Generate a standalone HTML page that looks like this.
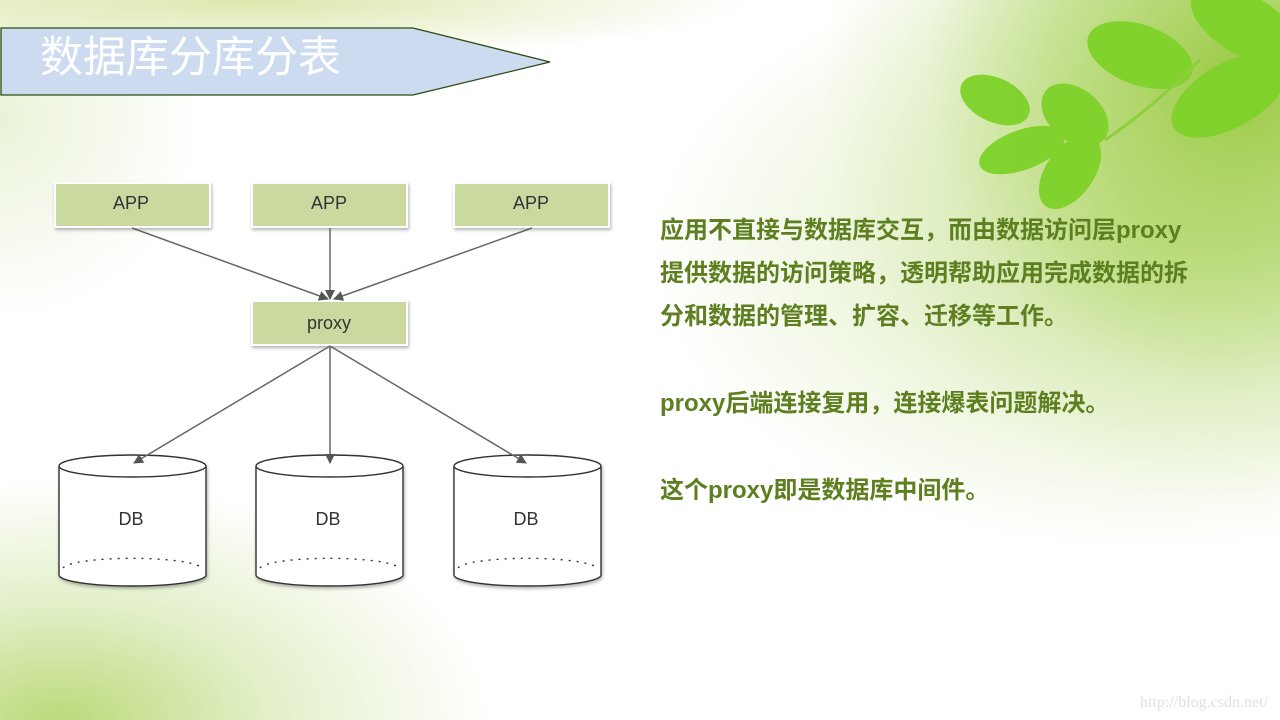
<!DOCTYPE html>
<html><head><meta charset="utf-8"><style>
html,body{margin:0;padding:0}
body{width:1280px;height:720px;position:relative;overflow:hidden;background:#fff;
font-family:"Liberation Sans","Noto Sans CJK SC",sans-serif;}
.bg{position:absolute;inset:0;
background:
radial-gradient(ellipse 420px 420px at 1240px 80px, rgba(150,200,60,0.95), rgba(170,210,90,0.6) 45%, rgba(200,225,150,0.25) 75%, rgba(255,255,255,0) 100%),
radial-gradient(ellipse 500px 300px at 1150px 250px, rgba(170,210,90,0.5), rgba(255,255,255,0) 100%),
radial-gradient(ellipse 430px 240px at 60px 720px, rgba(185,215,115,0.95), rgba(205,228,160,0.55) 50%, rgba(255,255,255,0) 100%),
radial-gradient(ellipse 500px 60px at 250px 0px, rgba(210,225,150,0.8), rgba(255,255,255,0) 100%),
radial-gradient(ellipse 200px 200px at 0px 120px, rgba(220,235,190,0.6), rgba(255,255,255,0) 100%),
#fff;}
.txt{position:absolute;left:660px;color:#5e7f20;font-weight:bold;font-size:24px;letter-spacing:0;white-space:nowrap;line-height:30px}
</style></head><body>
<div class="bg"></div>
<svg width="1280" height="720" style="position:absolute;left:0;top:0">
<defs>
<marker id="ah" markerWidth="10" markerHeight="10" refX="9" refY="5" orient="auto" markerUnits="userSpaceOnUse">
<path d="M0,0 L10,5 L0,10 z" fill="#555"/></marker>
<filter id="sh" x="-10%" y="-10%" width="130%" height="130%"><feDropShadow dx="1" dy="2" stdDeviation="1.5" flood-opacity="0.3"/></filter>
</defs>
<polygon points="1,28 413,28 550,62 413,95 1,95" fill="#cddbf0" stroke="#2d4a10" stroke-width="1.3"/>
<text x="40" y="72" font-size="43" fill="#fff" font-family="Liberation Sans,Noto Sans CJK SC,sans-serif">数据库分库分表</text>
<g fill="#7fd22a" opacity="0.95">
<ellipse cx="1140" cy="55" rx="55" ry="30" transform="rotate(20 1140 55)"/>
<ellipse cx="1245" cy="25" rx="60" ry="30" transform="rotate(30 1245 25)"/>
<ellipse cx="1230" cy="95" rx="65" ry="32" transform="rotate(-30 1230 95)"/>
<ellipse cx="995" cy="100" rx="37" ry="22" transform="rotate(25 995 100)"/>
<ellipse cx="1075" cy="115" rx="38" ry="26" transform="rotate(40 1075 115)"/>
<ellipse cx="1022" cy="150" rx="45" ry="20" transform="rotate(-20 1022 150)"/>
<ellipse cx="1070" cy="172" rx="42" ry="24" transform="rotate(-55 1070 172)"/>
</g>
<path d="M1105,140 Q1150,110 1200,60" stroke="#8ccf3a" stroke-width="3" fill="none"/>
<g fill="#c9d9a0" stroke="#fff" stroke-width="2" filter="url(#sh)">
<rect x="55" y="183" width="155" height="44"/>
<rect x="252" y="183" width="155" height="44"/>
<rect x="454" y="183" width="155" height="44"/>
<rect x="252" y="301" width="155" height="44"/>
</g>
<g font-size="18" fill="#333" text-anchor="middle" font-family="Liberation Sans,sans-serif">
<text x="131" y="209">APP</text><text x="329" y="209">APP</text><text x="531" y="209">APP</text>
<text x="329" y="329">proxy</text>
</g>
<g stroke="#333" stroke-width="1.4" filter="url(#sh)">
<g id="c1">
<path d="M59,466 L59,575 A73.5,11 0 0 0 206,575 L206,466" fill="#fff"/>
<ellipse cx="132.5" cy="466" rx="73.5" ry="11" fill="#fff"/>
<path d="M63,568 A70,11 0 0 1 202,568" fill="none" stroke-dasharray="2,6"/>
</g>
<use href="#c1" x="197"/>
<use href="#c1" x="395"/>
</g>
<g stroke="#666" stroke-width="1.5" fill="none" marker-end="url(#ah)">
<line x1="132" y1="228" x2="328" y2="299"/>
<line x1="330" y1="228" x2="330" y2="299"/>
<line x1="532" y1="228" x2="334" y2="299"/>
<line x1="330" y1="346" x2="134" y2="463"/>
<line x1="330" y1="346" x2="330" y2="463"/>
<line x1="330" y1="346" x2="526" y2="463"/>
</g>
<g font-size="18" fill="#333" text-anchor="middle" font-family="Liberation Sans,sans-serif">
<text x="131" y="525">DB</text><text x="328" y="525">DB</text><text x="526" y="525">DB</text>
</g>
<text x="1268" y="707" text-anchor="end" font-size="16" fill="#e0e0e0" font-family="Liberation Serif,serif">http://blog.csdn.net/</text>
</svg>
<div class="txt" style="top:216px">应用不直接与数据库交互，而由数据访问层proxy</div>
<div class="txt" style="top:259px">提供数据的访问策略，透明帮助应用完成数据的拆</div>
<div class="txt" style="top:302px">分和数据的管理、扩容、迁移等工作。</div>
<div class="txt" style="top:389px">proxy后端连接复用，连接爆表问题解决。</div>
<div class="txt" style="top:476px">这个proxy即是数据库中间件。</div>
</body></html>
